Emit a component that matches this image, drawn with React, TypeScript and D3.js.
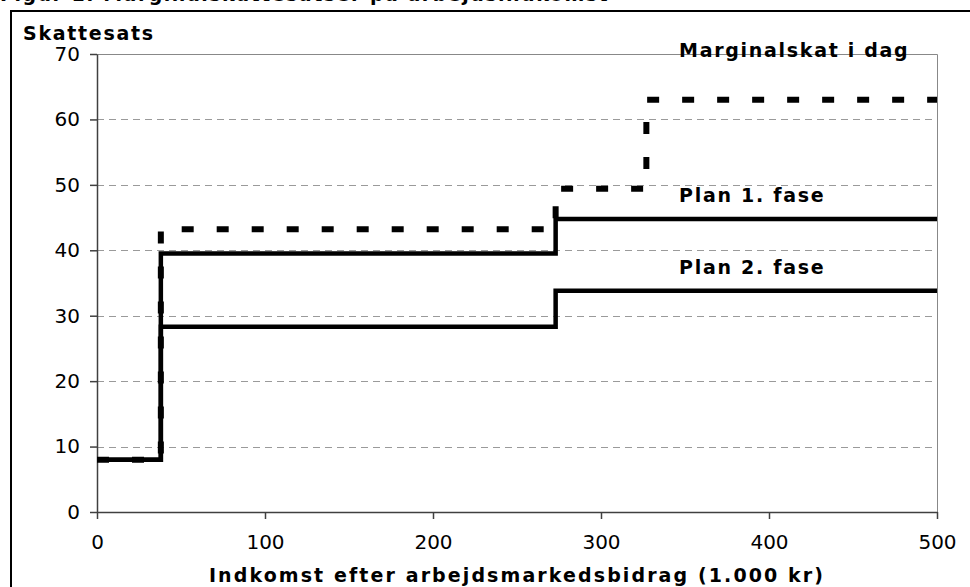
import React, { useEffect, useRef } from "react";
import * as d3 from "d3";

// income breakpoints (1.000 kr) where the marginal rate changes
const breaks = [0, 38, 273, 327, 500];
const marginalskat = [8, 43.2, 49.4, 63, 63];
const plan1 = [8, 39.5, 44.8, 44.8, 44.8];
const plan2 = [8, 28.3, 33.8, 33.8, 33.8];

const yTicks = [0, 10, 20, 30, 40, 50, 60, 70];
const xTicks = [0, 100, 200, 300, 400, 500];

const series = [
  { name: "Marginalskat i dag", values: marginalskat, dashed: true, labelY: 69.5 },
  { name: "Plan 1. fase", values: plan1, dashed: false, labelY: 47.4 },
  { name: "Plan 2. fase", values: plan2, dashed: false, labelY: 36.4 },
];

const font = "'DejaVu Sans', Verdana, sans-serif";

export default function App() {
  const ref = useRef<SVGSVGElement>(null);

  useEffect(() => {
    const width = 970;
    const height = 587;
    const margin = { top: 54, right: 33, bottom: 75, left: 97 };

    const svg = d3.select(ref.current);
    svg.selectAll("*").remove();

    const x = d3.scaleLinear().domain([0, 500]).range([margin.left, width - margin.right]);
    const y = d3.scaleLinear().domain([0, 70]).range([height - margin.bottom, margin.top]);

    // figure title, cut off by the top edge as in the source
    svg.append("text")
      .attr("x", 0)
      .attr("y", 1)
      .attr("font-family", font)
      .attr("font-weight", "bold")
      .attr("font-size", 19)
      .attr("letter-spacing", 1.5)
      .text("Figur 1. Marginalskattesatser på arbejdsindkomst");

    svg.append("path")
      .attr("d", `M11,${height} V11 H${width}`)
      .attr("fill", "none")
      .attr("stroke", "#000")
      .attr("stroke-width", 2);

    // grid
    svg.append("g")
      .selectAll("line")
      .data(yTicks.filter((t) => t > 0 && t < 70))
      .enter()
      .append("line")
      .attr("x1", x(0))
      .attr("x2", x(500))
      .attr("y1", (d) => Math.round(y(d)) + 0.5)
      .attr("y2", (d) => Math.round(y(d)) + 0.5)
      .attr("stroke", "#9a9a9a")
      .attr("stroke-dasharray", "7,5");

    // top and right plot border
    svg.append("path")
      .attr("d", `M${x(0)},${Math.round(y(70)) + 0.5} H${Math.round(x(500)) + 0.5} V${y(0)}`)
      .attr("fill", "none")
      .attr("stroke", "#888")
      .attr("stroke-width", 1);

    // axes
    const yAxis = svg.append("g")
      .attr("transform", `translate(${x(0)},0)`)
      .call(d3.axisLeft(y).tickValues(yTicks).tickSize(7).tickSizeOuter(0).tickPadding(10));
    const xAxis = svg.append("g")
      .attr("transform", `translate(0,${y(0)})`)
      .call(d3.axisBottom(x).tickValues(xTicks).tickSize(7).tickSizeOuter(0).tickPadding(16));

    [yAxis, xAxis].forEach((a) => {
      a.selectAll("path, line").attr("stroke", "#404040").attr("stroke-width", 1.5);
      a.selectAll("text")
        .attr("font-family", font)
        .attr("font-size", 20)
        .attr("fill", "#000");
    });

    const line = d3.line<number>()
      .x((_, i) => x(breaks[i]))
      .y((d) => y(d))
      .curve(d3.curveStepAfter);

    series.forEach((s) => {
      svg.append("path")
        .datum(s.values)
        .attr("fill", "none")
        .attr("stroke", "#000")
        .attr("stroke-width", s.dashed ? 6 : 4.5)
        .attr("stroke-dasharray", s.dashed ? "12,23" : null)
        .attr("d", line);

      svg.append("text")
        .attr("x", x(346.5))
        .attr("y", y(s.labelY))
        .attr("font-family", font)
        .attr("font-weight", "bold")
        .attr("font-size", 19)
        .attr("letter-spacing", 1.7)
        .text(s.name);
    });

    // axis titles
    svg.append("text")
      .attr("x", 23)
      .attr("y", 40)
      .attr("font-family", font)
      .attr("font-weight", "bold")
      .attr("font-size", 19)
      .attr("letter-spacing", 1.7)
      .text("Skattesats");

    svg.append("text")
      .attr("x", x(250))
      .attr("y", 582)
      .attr("text-anchor", "middle")
      .attr("font-family", font)
      .attr("font-weight", "bold")
      .attr("font-size", 19)
      .attr("letter-spacing", 2.1)
      .text("Indkomst efter arbejdsmarkedsbidrag (1.000 kr)");
  }, []);

  return (
    <svg
      ref={ref}
      width={970}
      height={587}
      style={{ position: "absolute", left: 0, top: 0, background: "#fff" }}
    />
  );
}
